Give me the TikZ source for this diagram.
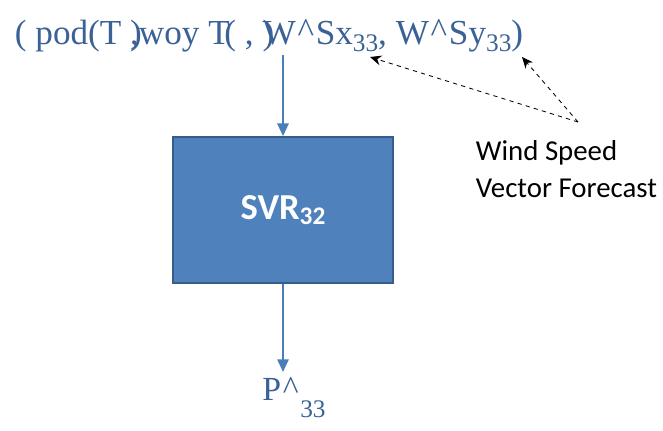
\documentclass[tikz,border=0pt]{standalone}
\usepackage{fontspec}
\setmainfont{Liberation Serif}
\newfontfamily\calibri{Carlito}
\usetikzlibrary{arrows.meta}
\definecolor{svrfill}{RGB}{79,129,189}
\definecolor{svredge}{RGB}{56,93,138}
\definecolor{txtblue}{RGB}{58,98,150}
\definecolor{flowblue}{RGB}{74,126,187}
\newcommand{\lowidx}[2][-0.45ex]{\raisebox{#1}{\fontsize{18}{18}\selectfont #2}}
\newcommand{\hatmark}{\kern0.05em\raisebox{0.1ex}{\^{}}\kern0.05em}

\begin{document}
\begin{tikzpicture}[x=0.025cm,y=-0.025cm,
    svrbox/.style={draw=svredge, line width=1.2pt, fill=svrfill, text=white,
      minimum width=5.5cm, minimum height=3.65cm, font=\calibri\bfseries\fontsize{26}{26}\selectfont},
    flow/.style={-{Triangle[length=9pt,width=8pt]}, flowblue, line width=1.4pt},
    hint/.style={-{Stealth[length=8pt,width=7pt]}, black, dashed, line width=0.6pt}]
\useasboundingbox (0,0) rectangle (663,430);

\node[txtblue, font=\fontsize{25}{25}\selectfont, anchor=west] (inp) at (10,36)
  {( pod(T \rlap{)},woy T\kern-0.15em( , \rlap{)}W\hatmark Sx\lowidx{33}, W\hatmark Sy\lowidx{33})};
\coordinate (inpfoot) at (283,55);

\node[svrbox] (svr) at (283,210) {SVR\lowidx[-0.3ex]{\calibri\bfseries 32}};
\node[txtblue, font=\fontsize{24}{24}\selectfont, anchor=north] (out) at (294,372) {P\hatmark\lowidx[-1.1ex]{33}};

\draw[flow] (inpfoot) -- (svr.north);
\draw[flow] (svr.south) -- (svr.south |- out.north);

\node[font=\calibri\fontsize{20.5}{26}\selectfont, align=left, anchor=north west] (lbl) at (471,136)
  {Wind Speed\\Vector Forecast};
\coordinate (lblroot) at (578,122);
\coordinate (sxend) at (370,57);
\coordinate (syend) at (522,57);
\draw[hint] (lblroot) -- (sxend);
\draw[hint] (lblroot) -- (syend);
\end{tikzpicture}
\end{document}
